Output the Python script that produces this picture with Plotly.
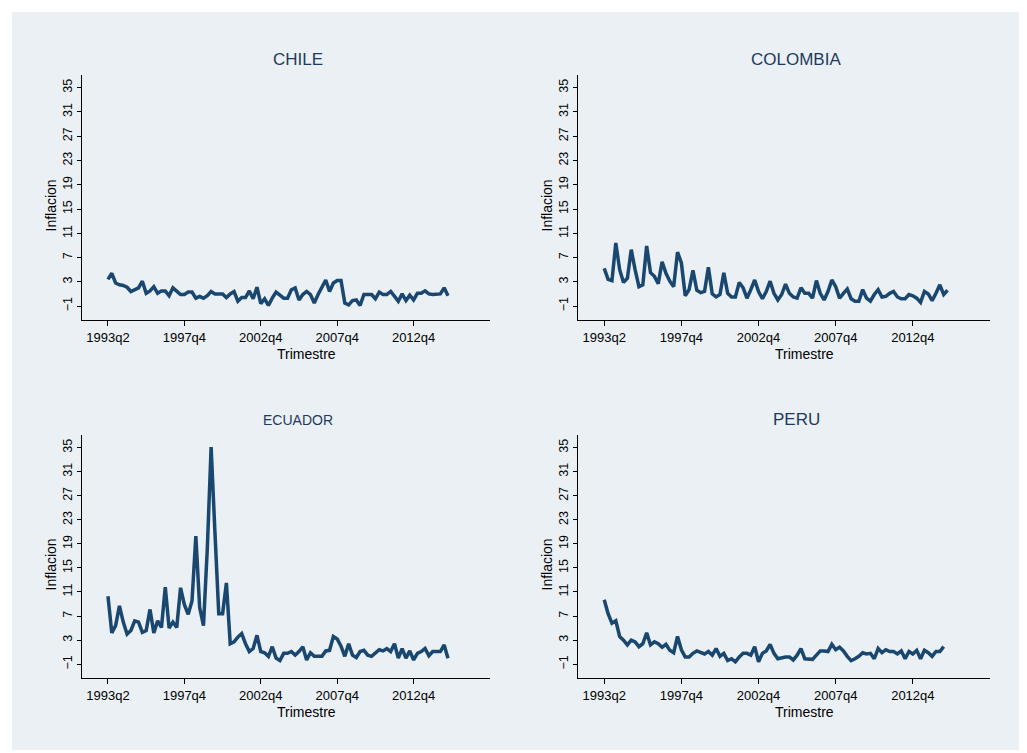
import plotly.graph_objects as go

chile = [3.4,4.4,2.8,2.5,2.4,2.1,1.4,1.7,2.0,3.1,1.1,1.5,2.2,1.1,1.5,1.5,0.7,2.0,1.4,0.9,0.9,1.3,1.3,0.3,0.6,0.3,0.7,1.4,1.0,1.0,1.0,0.4,1.0,1.4,-0.2,0.4,0.4,1.5,0.2,2.1,-0.6,0.2,-0.9,0.3,1.3,0.8,0.3,0.3,1.7,2.0,0.0,0.9,1.4,0.9,-0.5,0.9,2.0,3.3,1.4,2.8,3.2,3.2,-0.5,-0.8,-0.1,0.0,-0.9,0.9,0.9,0.9,0.2,1.3,0.9,0.9,1.4,0.6,-0.2,1.0,-0.1,0.8,0.0,1.1,1.1,1.5,1.0,0.9,0.9,1.0,2.0,0.7]
colombia = [5.2,3.4,3.2,9.4,5.0,2.9,3.6,8.3,5.0,2.2,2.5,8.9,4.5,3.9,2.7,6.3,4.4,3.1,2.2,7.9,6.1,0.7,1.7,4.9,1.6,1.2,1.4,5.4,1.0,0.5,0.9,4.5,1.1,0.5,0.5,2.9,2.0,0.3,1.7,3.3,1.4,0.2,1.4,3.1,1.1,0.0,0.9,2.6,1.1,0.5,0.3,2.0,1.1,1.1,0.3,3.2,1.1,0.0,1.4,3.3,2.2,0.3,1.1,1.8,0.2,-0.2,-0.2,1.7,0.3,-0.2,0.9,1.7,0.5,0.6,1.1,1.4,0.5,0.2,0.2,0.9,0.7,0.3,-0.4,1.4,1.0,-0.1,1.1,2.5,0.9,1.6]
ecuador = [10.3,4.2,5.4,8.7,6.0,4.0,4.6,6.2,6.0,4.3,4.6,8.1,4.2,6.2,5.1,11.8,5.0,6.0,5.1,11.7,8.9,7.3,9.5,20.3,8.4,5.4,18.2,35.1,20.9,7.4,7.4,12.5,2.4,2.7,3.5,4.1,2.4,1.1,1.6,3.8,1.1,0.9,0.3,1.9,0.0,-0.4,0.8,0.8,1.1,0.5,1.1,1.9,-0.3,0.9,0.3,0.3,0.3,1.2,1.3,3.6,3.2,2.0,0.3,2.4,0.5,0.1,1.1,1.3,0.5,0.3,0.9,1.4,1.2,1.6,1.1,2.4,0.0,1.6,0.0,1.2,-0.3,0.8,1.1,1.6,0.4,1.1,1.1,1.1,2.2,0.0]
peru = [9.7,7.4,5.8,6.2,3.6,3.0,2.2,3.0,2.7,1.9,2.4,4.2,2.2,2.7,2.4,1.8,2.3,1.3,0.9,3.6,1.4,0.2,0.2,0.8,1.2,0.9,0.7,1.1,0.5,1.6,0.3,0.8,-0.4,-0.1,-0.6,0.2,0.8,0.8,0.5,1.9,-0.6,0.8,1.2,2.3,0.8,-0.1,0.1,0.2,0.2,-0.3,0.5,1.6,-0.1,-0.1,-0.2,0.5,1.2,1.2,1.1,2.3,1.4,1.8,1.2,0.3,-0.4,-0.1,0.3,0.9,0.7,0.8,-0.1,1.6,0.9,1.4,1.1,1.1,0.7,1.2,-0.1,1.1,0.7,1.3,-0.1,1.3,0.9,0.3,1.1,1.1,1.9]

tick_pos = [0, 20, 40, 60, 80]
tick_labels = ["1993q2", "1997q4", "2002q4", "2007q4", "2012q4"]
y_ticks = [-1, 3, 7, 11, 15, 19, 23, 27, 31, 35]
names = ["CHILE", "COLOMBIA", "ECUADOR", "PERU"]
series = [chile, colombia, ecuador, peru]

W, H = 1027, 753
OX, OY = 8, 8  # page offset
panels = [  # (x0,x1,y0,y1) in target pixels
    (82, 490, 75, 320), (578, 990, 75, 320),
    (82, 490, 435, 678), (578, 990, 435, 678),
]
title_sizes = [17, 17, 14, 17]
def px(x): return (x - OX) / W
def py(y): return 1 - (y - OY) / H

fig = go.Figure()
ann = []
for k, (vals, (x0, x1, y0, y1)) in enumerate(zip(series, panels)):
    i = k + 1
    xa = "x" if i == 1 else f"x{i}"
    ya = "y" if i == 1 else f"y{i}"
    fig.add_trace(go.Scatter(x=list(range(len(vals))), y=vals, mode="lines",
                             line=dict(color="#1a476f", width=3.5),
                             xaxis=xa, yaxis=ya, showlegend=False))
    axk = "" if i == 1 else str(i)
    fig.layout["xaxis" + axk] = dict(domain=[px(x0), px(x1)], range=[-6.8, 100],
        tickvals=tick_pos, ticktext=tick_labels, showgrid=False, zeroline=False,
        showline=True, linecolor="#000", linewidth=1, ticks="outside", ticklen=5,
        tickcolor="#000", tickfont=dict(family="Arial", size=13, color="#000"),
        anchor=ya, fixedrange=True)
    fig.layout["yaxis" + axk] = dict(domain=[py(y1), py(y0)], range=[-3.3, 37.1],
        tickvals=y_ticks, tickangle=-90, showgrid=True, gridcolor="#eaf0f4", gridwidth=1.5,
        zeroline=False, showline=True, linecolor="#000", linewidth=1, ticks="outside",
        ticklen=4, tickcolor="#000", tickfont=dict(family="Arial", size=12.5, color="#000"),
        anchor=xa, fixedrange=True)
    cx = (x0 + x1) / 2
    ann.append(dict(text=names[k], x=px(cx + 12), y=py(y0 - 15), xref="paper", yref="paper",
                    xanchor="center", yanchor="middle", showarrow=False,
                    font=dict(family="Arial", size=title_sizes[k], color="#1e3a5f")))
    ann.append(dict(text="Trimestre", x=px(cx + 20), y=py(y1 + 34), xref="paper", yref="paper",
                    xanchor="center", yanchor="middle", showarrow=False,
                    font=dict(family="Arial", size=14, color="#000")))
    ann.append(dict(text="Inflacion", x=px(x0 - 32), y=py((y0 + y1) / 2 + 8), xref="paper",
                    yref="paper", xanchor="center", yanchor="middle", textangle=-90, showarrow=False,
                    font=dict(family="Arial", size=14, color="#000")))

fig.update_layout(width=W, height=H, margin=dict(l=0, r=0, t=0, b=0),
                  paper_bgcolor="white", plot_bgcolor="white", annotations=ann,
                  shapes=[dict(type="rect", xref="paper", yref="paper", x0=px(12), x1=px(1020),
                               y0=py(750), y1=py(12), fillcolor="#eaf0f4",
                               line=dict(width=0), layer="below")])
fig.write_html("out.html")
